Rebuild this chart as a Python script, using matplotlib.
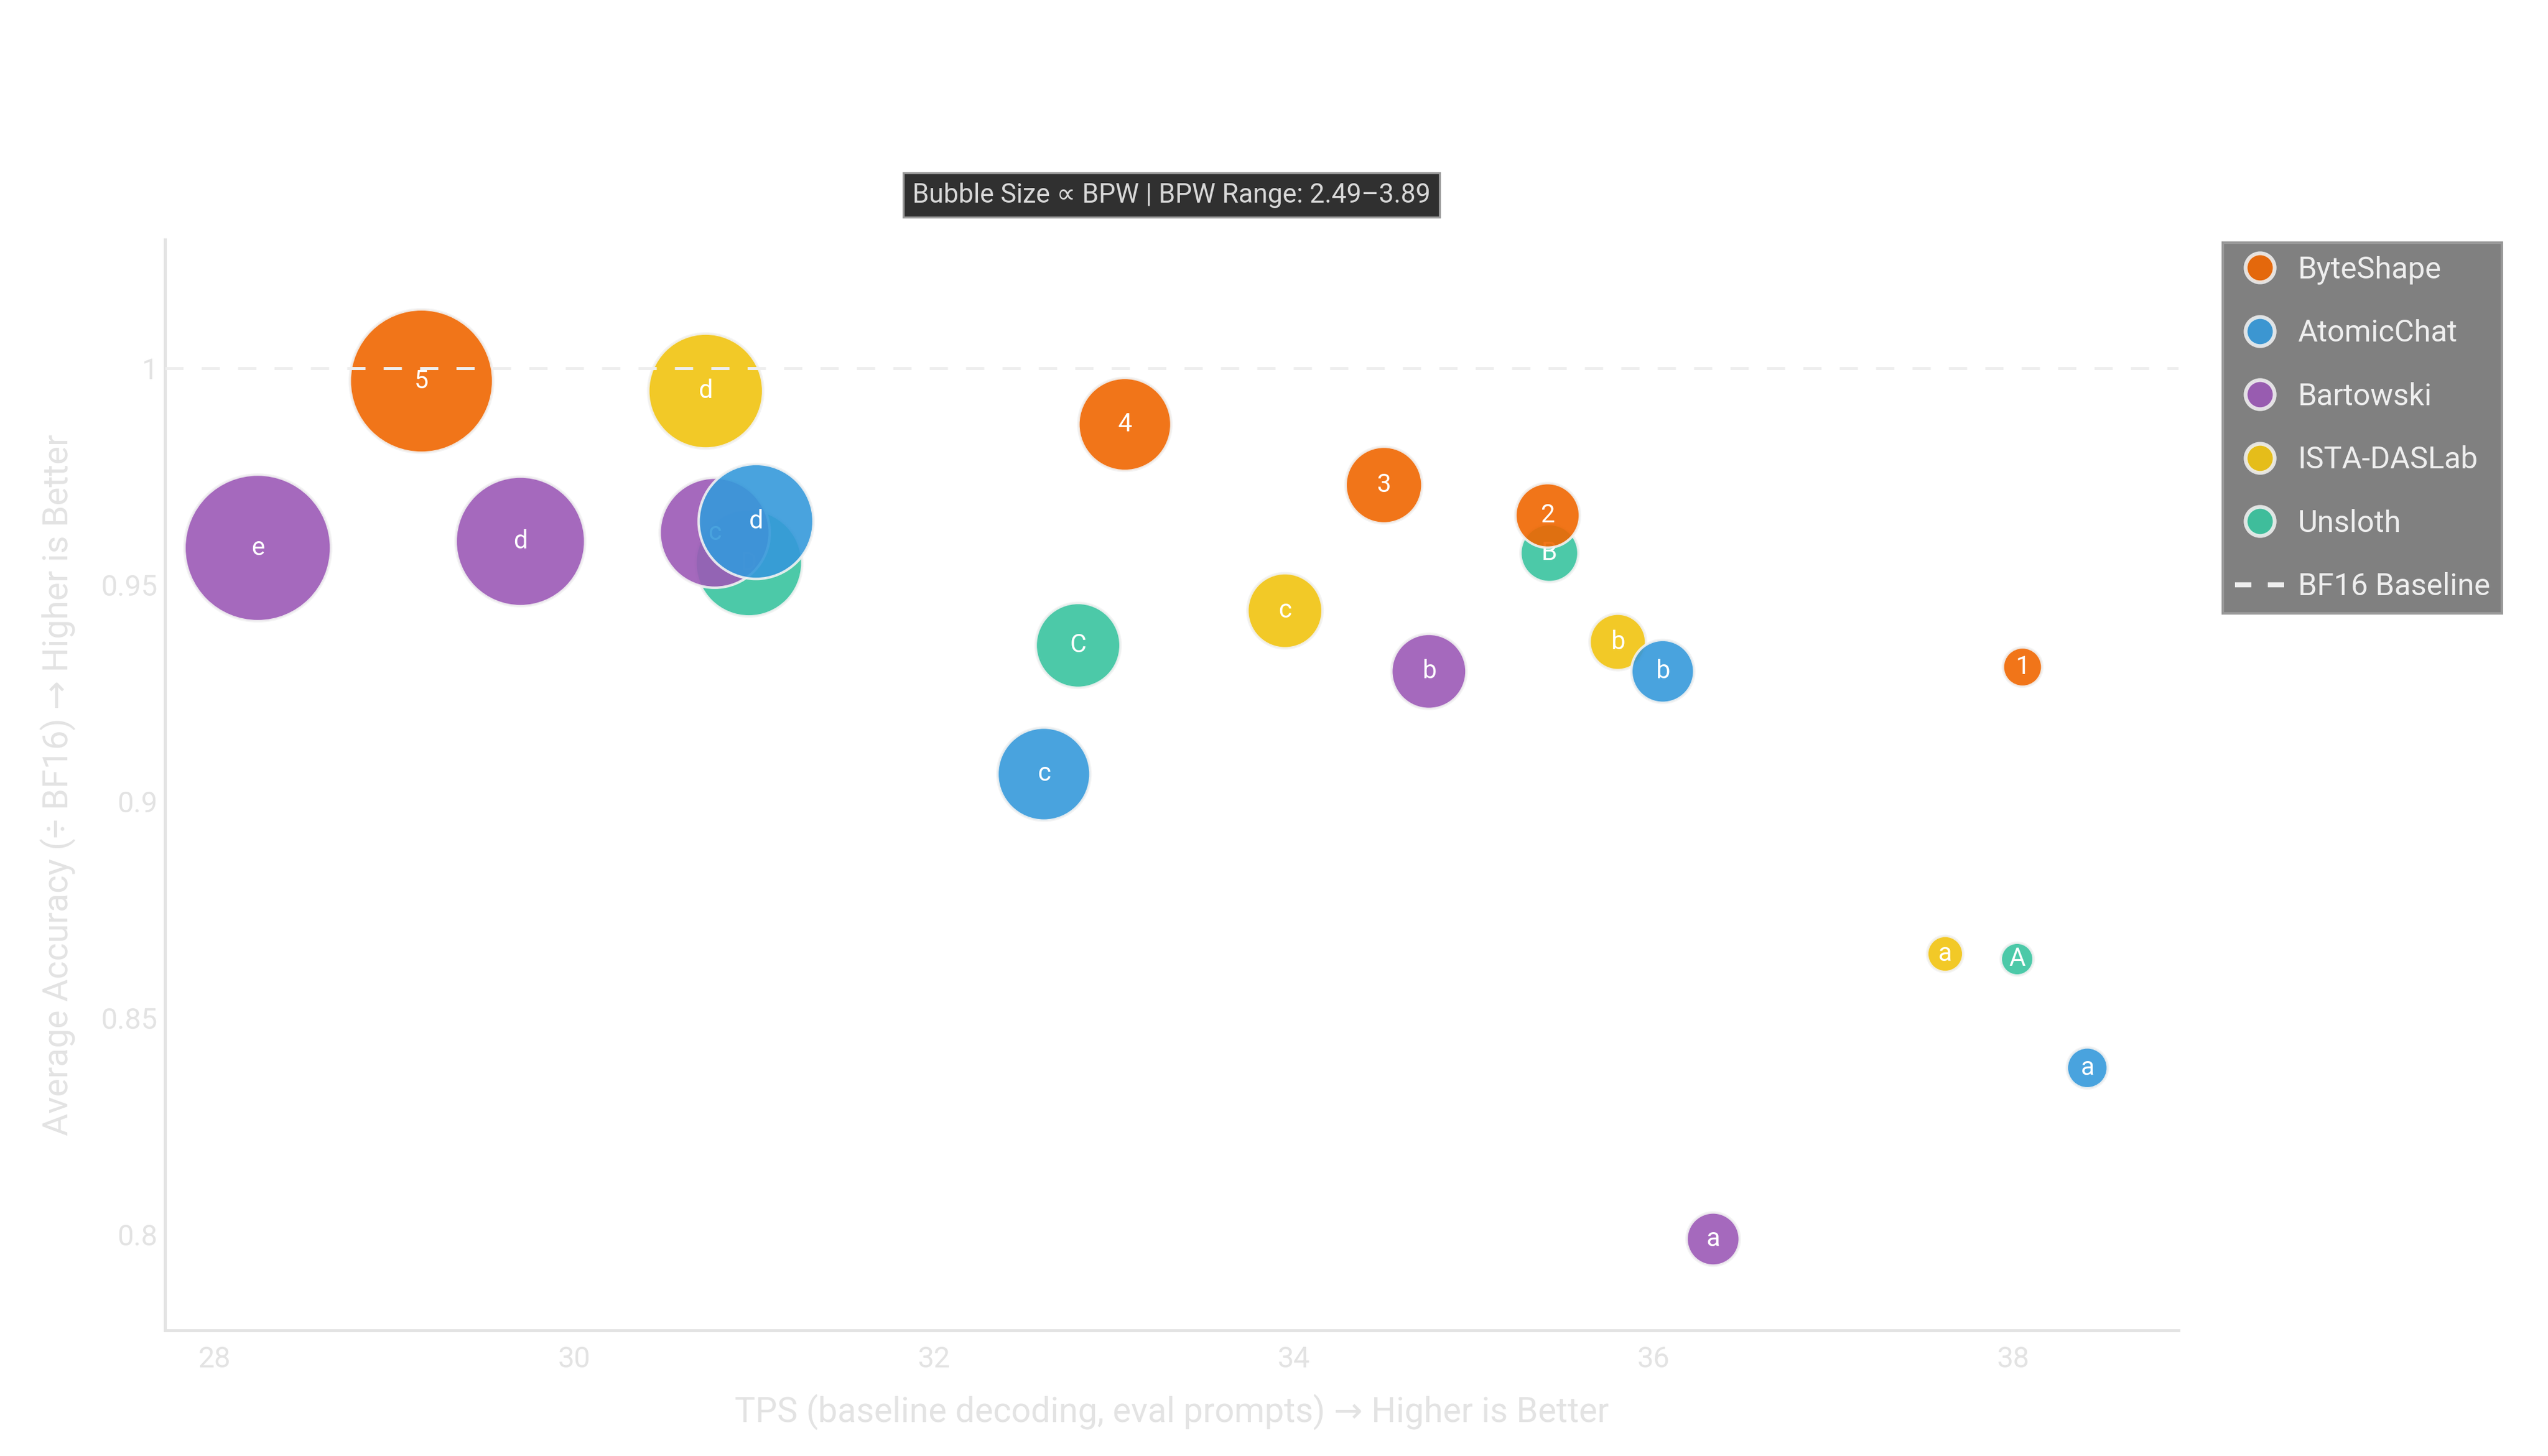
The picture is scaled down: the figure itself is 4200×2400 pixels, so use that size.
#!/usr/bin/env python3

import matplotlib
matplotlib.use('Agg')
import matplotlib.pyplot as plt
from matplotlib.lines import Line2D
import numpy as np

# quant families: label, throughput (TPS), accuracy relative to BF16, bits per weight
bs_labels = ['1', '2', '3', '4', '5']
bs_tps = [38.05, 35.41, 34.50, 33.06, 29.15]
bs_acc = [0.931, 0.966, 0.973, 0.987, 0.997]
bs_bpw = [2.57, 2.88, 3.03, 3.23, 3.85]

ac_labels = ['a', 'b', 'c', 'd']
ac_tps = [38.41, 36.05, 32.61, 31.01]
ac_acc = [0.8385, 0.930, 0.9063, 0.9646]
ac_bpw = [2.59, 2.86, 3.23, 3.50]

bw_labels = ['a', 'b', 'c', 'd', 'e']
bw_tps = [36.33, 34.75, 30.78, 29.70, 28.24]
bw_acc = [0.799, 0.930, 0.962, 0.960, 0.9585]
bw_bpw = [2.74, 3.01, 3.44, 3.68, 3.89]

ista_labels = ['a', 'b', 'c', 'd']
ista_tps = [37.62, 35.80, 33.95, 30.73]
ista_acc = [0.8648, 0.9368, 0.944, 0.9947]
ista_bpw = [2.53, 2.78, 3.01, 3.50]

us_labels = ['A', 'B', 'C', 'D']
us_tps = [38.02, 35.42, 32.80, 30.97]
us_acc = [0.8636, 0.9573, 0.936, 0.955]
us_bpw = [2.49, 2.80, 3.13, 3.40]

baseline = 1.0
bpw_min, bpw_max = 2.49, 3.89

x_ticks = [28, 30, 32, 34, 36, 38]
y_ticks = [0.8, 0.85, 0.9, 0.95, 1.0]
y_tick_labels = ['0.8', '0.85', '0.9', '0.95', '1']

# legend order, drawn bottom-up in reverse
groups = [
    ('ByteShape', '#f06600', bs_tps, bs_acc, bs_bpw, bs_labels),
    ('AtomicChat', '#3599db', ac_tps, ac_acc, ac_bpw, ac_labels),
    ('Bartowski', '#9b59b6', bw_tps, bw_acc, bw_bpw, bw_labels),
    ('ISTA-DASLab', '#f1c40f', ista_tps, ista_acc, ista_bpw, ista_labels),
    ('Unsloth', '#38c49f', us_tps, us_acc, us_bpw, us_labels),
]

plt.rcParams['font.family'] = ['Roboto', 'DejaVu Sans']

light = '#e3e3e3'


def bubble_area(bpw):
    # diameter in points grows linearly with BPW
    d = 13 + (np.asarray(bpw) - bpw_min) / (bpw_max - bpw_min) * 45
    return d ** 2


fig = plt.figure(figsize=(14, 8), dpi=300)
ax = fig.add_axes([0.0648, 0.0862, 0.7902, 0.7494])

n = len(groups)
for i, (name, color, tps, acc, bpw, labels) in enumerate(groups):
    z = 2 + (n - i) * 2
    ax.scatter(tps, acc, s=bubble_area(bpw), color=color, alpha=0.9,
               edgecolors='#f2f2f2', linewidths=1.0, zorder=z)
    for xv, yv, lab in zip(tps, acc, labels):
        ax.text(xv, yv, lab, color='white', fontsize=10, ha='center', va='center',
                zorder=z + 0.5)

ax.axhline(baseline, color='#eeeeee', linewidth=1.2, dashes=(6, 6), zorder=20)

ax.set_xlim(27.725, 38.917)
ax.set_ylim(0.7779, 1.0297)
ax.set_xticks(x_ticks)
ax.set_yticks(y_ticks)
ax.set_yticklabels(y_tick_labels)
ax.tick_params(length=0, colors=light, labelsize=11.5)
ax.tick_params(axis='x', pad=6)
ax.tick_params(axis='y', pad=3)

for side in ['top', 'right']:
    ax.spines[side].set_visible(False)
for side in ['left', 'bottom']:
    ax.spines[side].set_color(light)
    ax.spines[side].set_linewidth(1.2)

ax.set_xlabel('TPS (baseline decoding, eval prompts) → Higher is Better',
              color=light, fontsize=13.7, labelpad=8)
ax.set_ylabel('Average Accuracy (÷ BF16) → Higher is Better',
              color=light, fontsize=13.7, labelpad=10)

fig.text(0.4598, 0.866, 'Bubble Size ∝ BPW | BPW Range: 2.49–3.89',
         ha='center', va='center', fontsize=10.5, color='#d8d8d8',
         bbox=dict(boxstyle='square,pad=0.35', facecolor='#303030', edgecolor='#9a9a9a',
                   linewidth=0.8))

handles = []
for name, color, *_ in groups:
    handles.append(Line2D([], [], linestyle='none', marker='o', markersize=11.5,
                          markerfacecolor=color, markeredgecolor='#eeeeee',
                          markeredgewidth=1.5, alpha=0.9, label=name))
handles.append(Line2D([], [], color='#eeeeee', linewidth=2, dashes=(3.25, 3.25),
                      label='BF16 Baseline'))

leg = fig.legend(handles=handles, loc='upper left', bbox_to_anchor=(0.8724, 0.8333),
                 frameon=True, fancybox=False, fontsize=12, labelcolor='#eeeeee',
                 borderaxespad=0, borderpad=0.4, labelspacing=1.13, handlelength=1.62,
                 handletextpad=0.45)
leg.get_frame().set_facecolor('#808080')
leg.get_frame().set_edgecolor('#999999')
leg.get_frame().set_alpha(1)

fig.savefig('out.png', dpi=300)
plt.close(fig)
